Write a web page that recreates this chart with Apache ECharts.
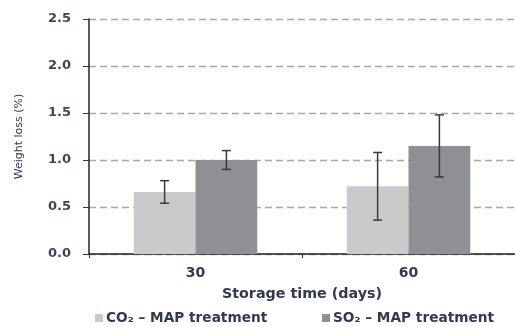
<!DOCTYPE html>
<html><head><meta charset="utf-8">
<script src="https://cdn.jsdelivr.net/npm/echarts@6/dist/echarts.min.js"></script>
<style>html,body{margin:0;padding:0;background:#fff}#c{width:515px;height:327px}</style>
</head><body><div id="c"></div>
<script>
const categories = ['30', '60'];
const co2Values = [0.66, 0.72];
const co2Errors = [0.12, 0.36];
const so2Values = [1.0, 1.15];
const so2Errors = [0.10, 0.33];
const seriesNames = ['CO₂ – MAP treatment', 'SO₂ – MAP treatment'];

const chart = echarts.init(document.getElementById('c'));
const FONT = 'DejaVu Sans';
const TXT = '#323a52';
const BW = 0.29;

function errSeries(values, errors, side) {
  return {
    type: 'custom',
    silent: true,
    z: 5,
    data: values.map((v, i) => [i, v - errors[i], v + errors[i]]),
    renderItem: function (params, api) {
      const band = api.size([1, 0])[0];
      const c = api.coord([api.value(0), 0]);
      const x = c[0] + side * band * BW / 2;
      const lo = api.coord([api.value(0), api.value(1)])[1];
      const hi = api.coord([api.value(0), api.value(2)])[1];
      const cap = 4.5;
      const st = { stroke: '#3a3a3a', lineWidth: 1.5 };
      return { type: 'group', children: [
        { type: 'line', shape: { x1: x, y1: lo, x2: x, y2: hi }, style: st },
        { type: 'line', shape: { x1: x - cap, y1: lo, x2: x + cap, y2: lo }, style: st },
        { type: 'line', shape: { x1: x - cap, y1: hi, x2: x + cap, y2: hi }, style: st }
      ]};
    }
  };
}

function legendAt(left, name) {
  return {
    top: 311, left: left, itemGap: 0, padding: 0,
    itemWidth: 8, itemHeight: 8, icon: 'rect',
    textStyle: { fontFamily: FONT, fontSize: 13.7, color: TXT, fontWeight: 'bold', padding: [0, 0, 0, -2] },
    data: [name]
  };
}

chart.setOption({
  animation: false,
  grid: { left: 89, right: 0, top: 19, bottom: 73 },
  legend: [legendAt(95, seriesNames[0]), legendAt(322, seriesNames[1])],
  xAxis: {
    type: 'category', data: categories,
    name: 'Storage time (days)', nameLocation: 'middle', nameGap: 33,
    nameTextStyle: { fontFamily: FONT, fontSize: 14.3, color: TXT, fontWeight: 'bold' },
    axisLine: { lineStyle: { color: '#222', width: 1.5 } },
    axisTick: { show: true, length: 4, lineStyle: { color: '#333' } },
    axisLabel: { fontFamily: FONT, fontSize: 14, color: TXT, fontWeight: 'bold', margin: 12 }
  },
  yAxis: {
    type: 'value', min: 0, max: 2.5, interval: 0.5,
    name: 'Weight loss (%)', nameLocation: 'middle', nameGap: 64,
    nameTextStyle: { fontFamily: FONT, fontSize: 11, color: TXT },
    axisLine: { show: true, lineStyle: { color: '#222', width: 1.5 } },
    axisTick: { show: true, length: 6, lineStyle: { color: '#333' } },
    axisLabel: { fontFamily: FONT, fontSize: 13, color: '#3d4661', fontWeight: 'bold', margin: 18,
      formatter: v => v.toFixed(1) },
    splitLine: { lineStyle: { color: '#a8a8a8', type: [7, 4], width: 1.3 } }
  },
  series: [
    { name: seriesNames[0], type: 'bar', data: co2Values, barWidth: (BW * 100) + '%', barGap: '0%',
      itemStyle: { color: '#c9cacc' } },
    { name: seriesNames[1], type: 'bar', data: so2Values, barWidth: (BW * 100) + '%', barGap: '0%',
      itemStyle: { color: '#8f9093' } },
    errSeries(co2Values, co2Errors, -1),
    errSeries(so2Values, so2Errors, 1)
  ]
});
</script></body></html>
